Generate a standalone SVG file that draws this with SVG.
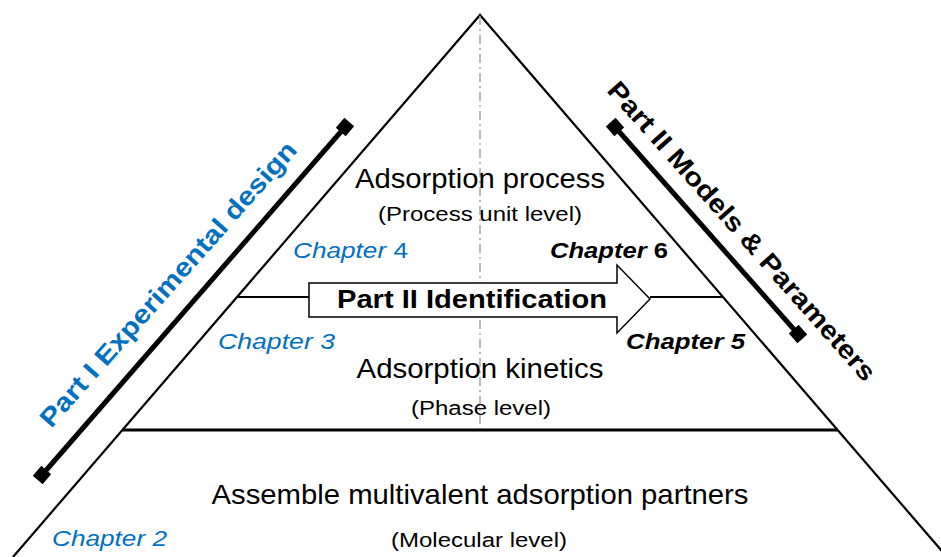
<svg xmlns="http://www.w3.org/2000/svg" width="941" height="557" viewBox="0 0 941 557">
<defs>
<style>
.t{font-family:"Liberation Sans",Arial,sans-serif;fill:#000}
.big{font-size:28px;text-anchor:middle}
.small{font-size:20px;text-anchor:middle}
.ch{font-size:22px}
.blue{fill:#0070C0}
.bold{font-weight:bold}
.it{font-style:italic}
.ln{stroke:#000;fill:none}
</style>
<marker id="sq" markerWidth="15" markerHeight="15" refX="7.5" refY="7.5" orient="auto" markerUnits="userSpaceOnUse">
<rect x="1" y="1" width="13" height="13" fill="#000"/>
</marker>
</defs>
<rect width="941" height="557" fill="#fff"/>
<g id="pyramid">
<polyline class="ln" points="13,557 480,15 947,557" stroke-width="2.2"/>
<line x1="480" y1="16" x2="480" y2="430" stroke="#a6a6a6" stroke-width="1.5" stroke-dasharray="9 4 2 4"/>
<line class="ln" x1="122" y1="430" x2="838" y2="430" stroke-width="3"/>
</g>
<g id="connectors">
<line class="ln" x1="237" y1="297" x2="309" y2="297" stroke-width="2"/>
<line class="ln" x1="650" y1="297" x2="723" y2="297" stroke-width="2"/>
<line class="ln" x1="42" y1="475" x2="345" y2="127" stroke-width="5" marker-start="url(#sq)" marker-end="url(#sq)"/>
<line class="ln" x1="615" y1="127" x2="798" y2="334" stroke-width="5" marker-start="url(#sq)" marker-end="url(#sq)"/>
</g>
<g id="identification-arrow">
<polygon points="309,283 617,283 617,265 650,299 617,333 617,317 309,317" fill="#fff" stroke="#000" stroke-width="1.5"/>
<text class="t bold" x="472" y="308" font-size="25" text-anchor="middle" textLength="270" lengthAdjust="spacingAndGlyphs">Part II Identification</text>
</g>
<g id="process-level">
<text class="t big" x="480" y="188" textLength="250" lengthAdjust="spacingAndGlyphs">Adsorption process</text>
<text class="t small" x="480" y="221" textLength="204" lengthAdjust="spacingAndGlyphs">(Process unit level)</text>
</g>
<g id="phase-level">
<text class="t big" x="480" y="378" textLength="247" lengthAdjust="spacingAndGlyphs">Adsorption kinetics</text>
<text class="t small" x="481" y="415" textLength="140" lengthAdjust="spacingAndGlyphs">(Phase level)</text>
</g>
<g id="molecular-level">
<text class="t big" x="480" y="504" textLength="537" lengthAdjust="spacingAndGlyphs">Assemble multivalent adsorption partners</text>
<text class="t small" x="479" y="547" textLength="176" lengthAdjust="spacingAndGlyphs">(Molecular level)</text>
</g>
<g id="chapters">
<text class="t ch blue" x="293" y="258" textLength="115" lengthAdjust="spacingAndGlyphs"><tspan class="it">Chapter</tspan> 4</text>
<text class="t ch bold" x="550" y="258" textLength="118" lengthAdjust="spacingAndGlyphs"><tspan class="it">Chapter</tspan> 6</text>
<text class="t ch blue it" x="218" y="349" textLength="117" lengthAdjust="spacingAndGlyphs">Chapter 3</text>
<text class="t ch bold it" x="626" y="349" textLength="119" lengthAdjust="spacingAndGlyphs">Chapter 5</text>
<text class="t ch blue it" x="52" y="546" textLength="115" lengthAdjust="spacingAndGlyphs">Chapter 2</text>
</g>
<g id="part1">
<text class="t blue bold" x="168" y="293" font-size="26" text-anchor="middle" textLength="372" lengthAdjust="spacingAndGlyphs" transform="rotate(-48.4 168 284)">Part I Experimental design</text>
</g>
<g id="part2">
<text class="t bold" x="742" y="240" font-size="26" text-anchor="middle" textLength="390" lengthAdjust="spacingAndGlyphs" transform="rotate(48.5 742 231)">Part II Models &amp; Parameters</text>
</g>
</svg>
